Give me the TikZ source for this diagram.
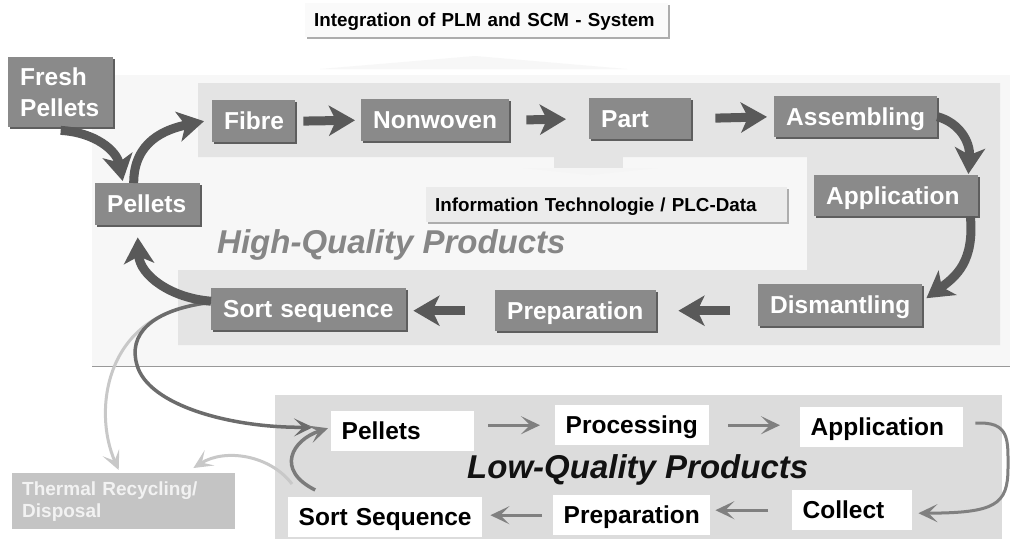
\documentclass[tikz,border=0pt]{standalone}
\usepackage{fontspec}
\setmainfont{Liberation Sans}
\usetikzlibrary{arrows.meta,shadows,calc}

\definecolor{nodegray}{HTML}{8A8A8A}
\definecolor{nodeshade}{HTML}{5E5E5E}
\definecolor{flowdark}{HTML}{595959}
\definecolor{stripgray}{HTML}{E4E4E4}
\definecolor{panelgray}{HTML}{DCDCDC}
\definecolor{zonegray}{HTML}{F7F7F7}
\definecolor{flowthin}{HTML}{808080}
\definecolor{flowmid}{HTML}{6C6C6C}
\definecolor{flowpale}{HTML}{C8C8C8}
\definecolor{thermalgray}{HTML}{C4C4C4}
\definecolor{hqtext}{HTML}{868686}

\begin{document}
\begin{tikzpicture}[x=1pt,y=-1pt,
  labelfont/.style={font=\bfseries\fontsize{24.5}{31}\selectfont},
  box/.style={anchor=north west, inner ysep=0pt, align=left, labelfont},
  oneline/.style={text height=17.5pt, text depth=0pt},
  darkbox/.style={box, inner xsep=12pt, fill=nodegray, text=white,
    general shadow={fill=nodeshade, shadow xshift=2pt, shadow yshift=-2pt}},
  lightbox/.style={box, oneline, inner xsep=10.5pt, fill=white, text=black},
  infobox/.style={anchor=north west, inner xsep=9pt, inner ysep=0pt, align=left,
    text height=13.5pt, text depth=0pt, text=black,
    font=\bfseries\fontsize{18.8}{22}\selectfont,
    general shadow={fill=black!32, shadow xshift=2pt, shadow yshift=-2pt}},
  thickarrow/.style={draw=flowdark, line width=9pt,
    -{Stealth[length=26pt, width=30pt, inset=7pt]}},
  thinarrow/.style={draw=flowthin, line width=3pt,
    -{Stealth[length=19pt, width=18pt, inset=9pt]}},
  midarrow/.style={thinarrow, draw=flowmid, line width=3.5pt},
  palearrow/.style={thinarrow, draw=flowpale},
  title/.style={anchor=base west, inner sep=0pt,
    font=\bfseries\itshape\fontsize{33}{36}\selectfont}
]
\useasboundingbox (0,0) rectangle (1010,539);
\fill[white] (0,0) rectangle (1010,539);

% upper zone, separator and the two panels
\fill[zonegray] (92,75) rectangle (1010,366);
\draw[black!40, line width=1pt] (92,366) -- (1010,366);
\fill[stripgray] (198,83) -- (1000,83) -- (1000,345) -- (178,345) -- (178,270)
  -- (807,270) -- (807,157) -- (198,157) -- cycle;
\fill[panelgray] (275,395) rectangle (1002,539);

% faint data-flow marks
\fill[black!3] (320,69) -- (475,56) -- (627,69) -- cycle;
\fill[stripgray] (554,157) rectangle (623,168);
\fill[black!4] (523,168) -- (657,168) -- (590,175) -- cycle;

% header boxes
\node[infobox, fill=black!2, minimum width=363pt, minimum height=34pt,
  text width=345pt] (plm) at (305,3) {Integration of PLM and SCM - System};
\node[infobox, fill=black!8, minimum width=361pt, minimum height=35pt,
  text width=343pt] (info) at (426,187) {Information Technologie / PLC-Data};

% section titles
\node[title, text=hqtext] (hq) at (217,253) {High-Quality Products};
\node[title, text=black!93] (lq) at (467,478) {Low-Quality Products};

% high-quality cycle
\node[darkbox, text width=81pt, minimum height=70pt] (fresh) at (8,57) {Fresh\\Pellets};
\node[darkbox, oneline, text width=81pt, minimum height=42pt] (pel) at (95,183) {Pellets};
\node[darkbox, oneline, text width=59pt, minimum height=42pt] (fib) at (212,100) {Fibre};
\node[darkbox, oneline, text width=124pt, minimum height=42pt] (non) at (361,99) {Nonwoven};
\node[darkbox, oneline, text width=78pt, minimum height=41pt] (part) at (589,98) {Part};
\node[darkbox, oneline, text width=139pt, minimum height=41pt] (asm) at (774,96) {Assembling};
\node[darkbox, oneline, text width=140pt, minimum height=41pt] (app) at (814,175) {Application};
\node[darkbox, oneline, text width=140pt, minimum height=42pt] (dism) at (758,284) {Dismantling};
\node[darkbox, oneline, text width=137pt, minimum height=41pt] (prep) at (495,290) {Preparation};
\node[darkbox, oneline, text width=171pt, minimum height=42pt] (sort) at (211,288) {Sort sequence};

% low-quality cycle
\node[lightbox, text width=122pt, minimum height=40pt] (pello) at (331,411) {Pellets};
\node[lightbox, text width=133pt, minimum height=40pt] (proc) at (555,405) {Processing};
\node[lightbox, text width=142pt, minimum height=40pt] (appl) at (800,407) {Application};
\node[lightbox, text width=99pt, minimum height=40pt] (coll) at (792,490) {Collect};
\node[lightbox, text width=136pt, minimum height=40pt] (preplo) at (553,495) {Preparation};
\node[lightbox, text width=173pt, minimum height=40pt] (sortlo) at (288,497) {Sort Sequence};

% thermal route
\node[anchor=north west, fill=thermalgray, text=black!5, inner xsep=10pt, inner ysep=0pt,
  align=left, text width=203pt, minimum height=56pt,
  font=\bfseries\fontsize{19}{22}\selectfont] (therm) at (12,473)
  {Thermal Recycling/\\Disposal};

% routes leaving the high-quality sort sequence
\draw[palearrow] ([yshift=6pt]sort.west) .. controls (105,310) and (92,410)
  .. ([shift={(-5pt,3pt)}]therm.north);
\draw[palearrow] ([shift={(4pt,13pt)}]sortlo.north west) .. controls (270,455) and (225,448)
  .. ([shift={(-42pt,5pt)}]therm.north east);
\coordinate (loop) at (137,365);
\draw[midarrow] ([yshift=7pt]sort.west) .. controls (150,310) and (128,335) .. (loop)
  .. controls (148,405) and (230,428) .. ([shift={(-18pt,4pt)}]pello.west);

% high-quality flow
\draw[thickarrow] ([yshift=-3pt]fresh.south) .. controls +(35,2) and +(-6,-30)
  .. ([shift={(-25pt,2pt)}]pel.north);
\draw[thickarrow] ([xshift=-14pt]pel.north) .. controls +(0,-42) and +(-38,8)
  .. ([xshift=-8pt]fib.west);
\draw[thickarrow, shorten <=8pt, shorten >=6pt] (fib.east) -- (non.west);
\draw[thickarrow, shorten <=17pt, shorten >=23pt] (non.east) -- (part.west);
\draw[thickarrow, shorten <=24pt, shorten >=7pt] (part.east) -- (asm.west);
\draw[thickarrow] (asm.east) .. controls +(22,6) and +(2,-32)
  .. ([shift={(-10pt,1pt)}]app.north east);
\draw[thickarrow] ([xshift=-8pt]app.south east) .. controls +(4,45) and +(30,-22)
  .. ([shift={(4pt,7pt)}]dism.east);
\draw[thickarrow, shorten <=28pt, shorten >=22pt] (dism.west |- prep.east) -- (prep.east);
\draw[thickarrow, shorten <=30pt, shorten >=7pt] (prep.west) -- (sort.east |- prep.west);
\draw[thickarrow] ([yshift=8pt]sort.west) .. controls +(-40,-3) and +(2,38)
  .. ([shift={(-10pt,-12pt)}]pel.south);

% low-quality flow
\draw[thinarrow, shorten <=14pt, shorten >=15pt] (pello.east |- proc.west) -- (proc.west);
\draw[thinarrow, shorten <=19pt, shorten >=20pt] (proc.east) -- (appl.west |- proc.east);
\coordinate (bend) at (1008,468);
\draw[thinarrow] ([shift={(12pt,4pt)}]appl.east) .. controls (1010,421) and (1008,440) .. (bend)
  .. controls (1008,505) and (995,513) .. ([shift={(6pt,-3pt)}]coll.east);
\draw[thinarrow, shorten <=24pt, shorten >=5pt] (coll.west) -- (preplo.east |- coll.west);
\draw[thinarrow, shorten <=11pt, shorten >=8pt] (preplo.west) -- (sortlo.east |- preplo.west);
\draw[midarrow, draw=flowmid!90] ([shift={(-70pt,7pt)}]sortlo.north) .. controls (275,470) and (292,440)
  .. ([shift={(-3pt,3pt)}]pello.west);
\end{tikzpicture}
\end{document}
